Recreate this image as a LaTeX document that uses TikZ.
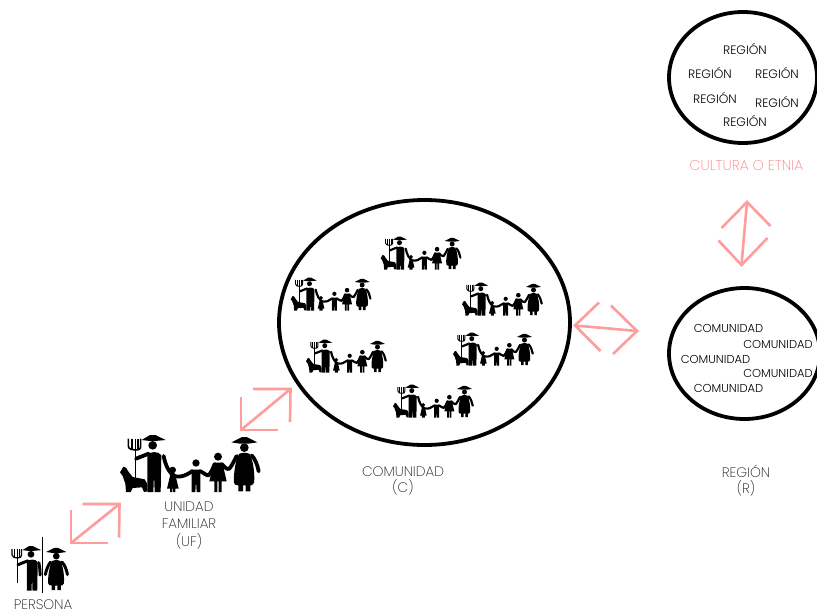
\documentclass[tikz,border=0pt]{standalone}
\usepackage{fontspec}
\setmainfont{Poppins}[UprightFont={* Light}]
\newfontfamily\xlight{Poppins ExtraLight}
\definecolor{pinkline}{HTML}{FF9C9C}
\definecolor{pinktext}{HTML}{FF8080}
\definecolor{labelgrey}{HTML}{1A1A1A}
\tikzset{
  ring/.style={draw=black,line width=3.8pt,fill=none},
  inner/.style={font=\fontsize{11.5}{12}\selectfont,text=black,inner sep=0pt},
  innerr/.style={font=\fontsize{12.2}{13}\selectfont,text=black,inner sep=0pt},
  caption/.style={font=\xlight\fontsize{13.8}{16}\selectfont,text=labelgrey,align=center,inner sep=0pt},
  pinkarrow/.style={draw=pinkline,line width=2.6pt,line cap=butt,line join=miter},
  limb/.style={draw=black,line width=\Lw*3.8pt,line cap=round,line join=round},
  thinl/.style={draw=black,line width=\Lw*1.6pt,line cap=butt},
}
\newcommand{\farmerfig}{%
  \fill (95,44)--(120,29)--(136,29)--(167,44)--(135,47)--(120,47)--cycle;
  \fill (128,60) circle[radius=13];
  \fill (112,90) .. controls (118,78) and (146,76) .. (154,90) -- (152,200)--(134,200)--(132,145)--(130,200)--(112,200)--cycle;
  \draw[limb] (78,100)--(116,85);
  \draw[thinl] (76,40)--(76,172);
  \draw[thinl] (55,40)--(55,62) .. controls (55,72) and (68,74) .. (76,74) .. controls (86,74) and (92,72) .. (92,62) -- (92,40);
  \draw[thinl] (66,40)--(66,72);
  \draw[thinl] (84,40)--(84,72);
}
\newcommand{\dogfig}{%
  \fill (30,141)--(40,124)--(48,127)--(56,140)--(68,155)--(104,162)--(112,176)--(112,198)--(102,200)--(96,186)--(68,188)--(62,200)--(48,200)--(46,175)--(38,152)--cycle;
}
\newcommand{\kidsfig}{%
  \fill (188,134) circle[radius=10];
  \fill (181,148)--(196,148)--(206,190)--(196,190)--(196,200)--(189,200)--(189,190)--(187,190)--(187,200)--(180,200)--(180,190)--(171,190)--cycle;
  \fill (258,113) circle[radius=11];
  \fill (245,133)--(271,133)--(271,200)--(260,200)--(258,166)--(256,200)--(245,200)--cycle;
  \fill (324,94) circle[radius=12];
  \fill (311,112)--(337,112)--(350,168)--(335,168)--(335,200)--(326,200)--(326,168)--(322,168)--(322,200)--(313,200)--(313,168)--(298,168)--cycle;
  \draw[limb] (161,92) .. controls (166,120) and (178,145) .. (196,153) .. controls (215,157) and (232,148) .. (247,137);
  \draw[limb] (270,137) .. controls (280,142) and (288,150) .. (295,150) .. controls (302,146) and (308,130) .. (314,116);
  \draw[limb] (335,116) .. controls (342,122) and (350,135) .. (358,130) .. controls (365,122) and (372,108) .. (380,92);
}
\newcommand{\womanfig}{%
  \fill (364,51)--(396,35)--(410,35)--(442,51)--(415,55)--(390,55)--cycle;
  \fill (403,67) circle[radius=13];
  \fill (387,86) .. controls (395,81) and (411,81) .. (419,86) .. controls (430,105) and (435,150) .. (432,172) .. controls (430,180) and (424,180) .. (421,180)--(421,198)--(407,198)--(407,180)--(399,180)--(399,198)--(385,198)--(385,180) .. controls (378,180) and (373,178) .. (372,172) .. controls (370,150) and (376,105) .. (387,86) -- cycle;
  \draw[limb] (425,90) .. controls (435,100) and (443,120) .. (446,138);
}
% arguments: x of left edge of dog, y of feet, scale
\newcommand{\famfig}[3]{%
  \begin{scope}[shift={(#1-10*#3,#2)},scale=#3/3,shift={(0,-200)}]
    \def\Lw{#3}
    \farmerfig\dogfig\kidsfig\womanfig
  \end{scope}}
\begin{document}
\begin{tikzpicture}[x=1pt,y=-1pt]
\useasboundingbox (0,0) rectangle (817,613);
% rings
\draw[ring] (424.5,322.5) ellipse[x radius=145.5,y radius=122.5];
\draw[ring] (744.5,353.5) ellipse[x radius=75.5,y radius=65.5];
\draw[ring] (743,77.5) ellipse[x radius=74,y radius=65.5];
% region texts
\node[innerr] (r1) at (745,49) {REGIÓN};
\node[innerr] (r2) at (710,73) {REGIÓN};
\node[innerr] (r3) at (777,73) {REGIÓN};
\node[innerr] (r4) at (715,98) {REGIÓN};
\node[innerr] (r5) at (777,102) {REGIÓN};
\node[innerr] (r6) at (745,121) {REGIÓN};
% community texts
\node[inner] (c1) at (728.5,328) {COMUNIDAD};
\node[inner] (c2) at (778,344) {COMUNIDAD};
\node[inner] (c3) at (715.5,359) {COMUNIDAD};
\node[inner] (c4) at (778,373) {COMUNIDAD};
\node[inner] (c5) at (728.5,388) {COMUNIDAD};
% captions
\node[caption] (persona) at (43,604.5) {PERSONA};
\node[caption,font=\xlight\fontsize{13.8}{17.5}\selectfont] (uf) at (189,525) {UNIDAD\\FAMILIAR\\(UF)};
\node[caption] (com) at (403,481) {COMUNIDAD\\(C)};
\node[caption] (reg) at (746,481) {REGIÓN\\(R)};
\node[caption,text=pinktext,font=\xlight\fontsize{14.2}{16}\selectfont] (cult) at (746.5,166) {CULTURA O ETNIA};
% arrows
\coordinate (a1s) at (71,543); \coordinate (a1e) at (119.5,504);
\draw[pinkarrow] (a1s)--(a1e);
\draw[pinkarrow] (71,510)--(a1s)--(107.5,543);
\draw[pinkarrow] (82.5,504)--(a1e)--(119,537.5);
\coordinate (a2s) at (241,430); \coordinate (a2e) at (290.5,389);
\draw[pinkarrow] (a2s)--(a2e);
\draw[pinkarrow] (241,397)--(a2s)--(278,430);
\draw[pinkarrow] (253,389)--(a2e)--(290,422);
\coordinate (a3s) at (575,325.5); \coordinate (a3e) at (637,331);
\draw[pinkarrow] (a3s)--(a3e);
\draw[pinkarrow] (599,302.5)--(a3s)--(600.5,351);
\draw[pinkarrow] (611,305.5)--(a3e)--(613,354);
\coordinate (a4s) at (747,202); \coordinate (a4e) at (741.5,265);
\draw[pinkarrow] (a4s)--(a4e);
\draw[pinkarrow] (721.5,228)--(a4s)--(770.5,226);
\draw[pinkarrow] (718.5,240.5)--(a4e)--(767.5,238);
% families
\famfig{120}{492}{1}
\famfig{380.7}{269.5}{.575}
\famfig{290.7}{310.5}{.575}
\famfig{462}{315.5}{.575}
\famfig{453}{365.5}{.575}
\famfig{306}{372.5}{.575}
\famfig{393}{417.5}{.575}
% person
\begin{scope}[shift={(-2.3,590.7)},scale=.78/3,shift={(0,-200)}]
  \def\Lw{.78}
  \farmerfig
  \draw[limb] (158,92) .. controls (162,110) and (163,125) .. (163,140);
\end{scope}
\begin{scope}[shift={(-48.5,590.7)},scale=.78/3,shift={(0,-200)}]
  \def\Lw{.78}
  \womanfig
  \draw[limb] (381,90) .. controls (372,100) and (364,122) .. (361,138);
\end{scope}
\coordinate (divt) at (42.7,537); \coordinate (divb) at (42.7,592.5);
\draw[draw=black,line width=1pt] (divt)--(divb);
\end{tikzpicture}
\end{document}
